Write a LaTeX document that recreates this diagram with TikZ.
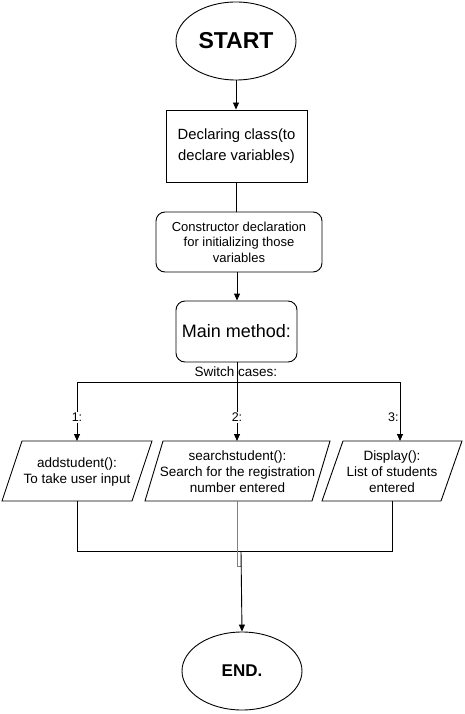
\documentclass[tikz,border=0pt]{standalone}
\usepackage{fontspec}
\setmainfont{Liberation Sans}
\usetikzlibrary{shapes.geometric,arrows.meta}
\begin{document}
\begin{tikzpicture}[x=1pt,y=-1pt,
  line width=0.9pt,
  arr/.style={-{Triangle[length=7pt,width=6pt]}},
  oval/.style={draw,ellipse,minimum width=120pt,minimum height=78pt,inner sep=0pt},
  box/.style={draw,rectangle,inner sep=0pt,align=center},
  rbox/.style={draw,rectangle,rounded corners=9pt,inner sep=0pt,align=center},
  ptext/.style={align=center,inner sep=0pt,font=\fontsize{13.5}{16}\selectfont},
  lbl/.style={font=\fontsize{12.5}{14}\selectfont,inner sep=1pt}
]
\useasboundingbox (0,0) rectangle (464,714);
\fill[white] (0,0) rectangle (464,714);

\node[oval,font=\bfseries\fontsize{23}{26}\selectfont] (start) at (236,41) {START};
\node[box,minimum width=141pt,minimum height=72pt,font=\fontsize{14.8}{21}\selectfont] (decl) at (236.5,146) {Declaring class(to\\declare variables)};
\node[rbox,minimum width=166pt,minimum height=60pt,font=\fontsize{13}{15.5}\selectfont] (cons) at (239,242) {Constructor declaration\\for initializing those\\variables};
\node[rbox,minimum width=121pt,minimum height=61pt,font=\fontsize{18}{20}\selectfont] (main) at (236.5,331.5) {Main method:};

% parallelograms
\draw (2,501) -- (22,441) -- (152,441) -- (132,501) -- cycle;
\node[ptext] (add) at (77,472) {addstudent():\\To take user input};
\draw (145,501) -- (163,441) -- (330,441) -- (312,501) -- cycle;
\node[ptext] (search) at (237.5,472) {searchstudent():\\Search for the registration\\number entered};
\draw (322,501) -- (343,441) -- (462,441) -- (441,501) -- cycle;
\node[ptext] (disp) at (392,472) {Display():\\List of students\\entered};

\coordinate (addT) at (77,441);
\coordinate (addB) at (77,501);
\coordinate (searchT) at (237,441);
\coordinate (searchB) at (237,501);
\coordinate (dispT) at (400,441);
\coordinate (dispB) at (392,501);
\coordinate (split) at (237,382);
\coordinate (join) at (241,551);

\node[oval,font=\bfseries\fontsize{17}{20}\selectfont] (end) at (242,671) {END.};

% connectors
\draw[arr] (start) -- (decl.north -| start);
\draw (decl.south) -- (decl.south |- cons.north);
\draw[arr] (cons.south -| split) -- (main.north -| split);
\draw (main.south -| split) -- (split);
\draw[arr] (split) -| node[pos=0.8,fill=white,lbl]{1:} (addT);
\draw[arr] (split) -- node[pos=0.6,fill=white,lbl]{2:} (searchT);
\draw[arr] (split) -| node[pos=0.8,left,lbl]{3:} (dispT);
\node[font=\fontsize{13.5}{15}\selectfont,inner sep=0pt] (sw) at (236,372) {Switch cases:};

\draw (addB) -- (addB |- join) -- (dispB |- join) -- (dispB);
\draw[gray] (searchB) -- (237,566) -- (241,566);
\draw[arr] (join) -- (end.north);
\end{tikzpicture}
\end{document}
